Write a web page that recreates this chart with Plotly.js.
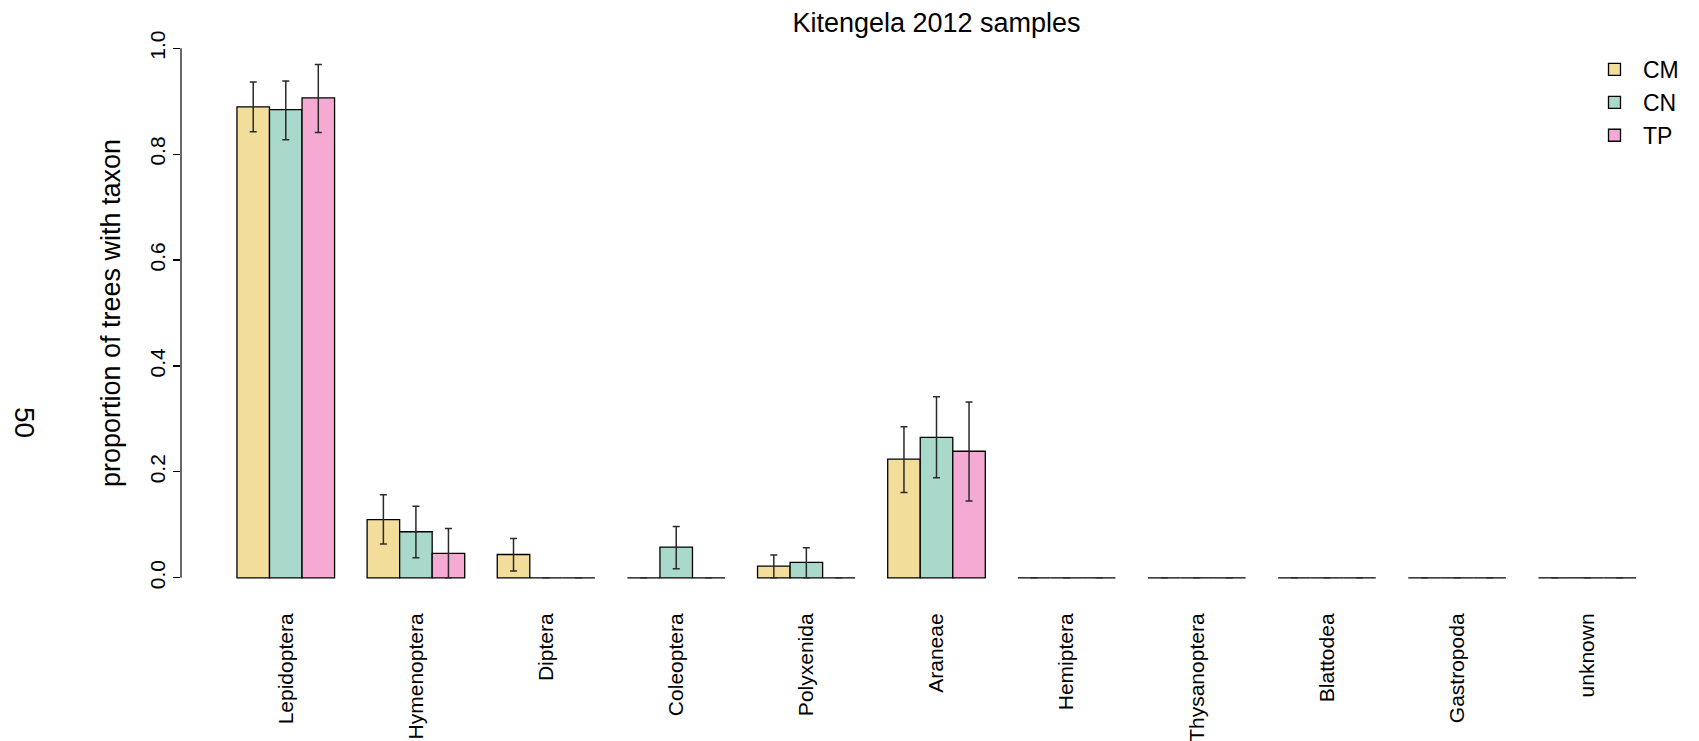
<!DOCTYPE html>
<html>
<head>
<meta charset="utf-8">
<script src="https://cdn.plot.ly/plotly-3.0.1.min.js"></script>
<style>html,body{margin:0;padding:0;background:#fff;}#chart{width:1699px;height:741px;}</style>
</head>
<body>
<div id="chart"></div>
<script>
const taxa = ["Lepidoptera","Hymenoptera","Diptera","Coleoptera","Polyxenida","Araneae","Hemiptera","Thysanoptera","Blattodea","Gastropoda","unknown"];
const groups = ["CM","CN","TP"];
const cmValues = [0.889,0.110,0.044,0,0.022,0.224,0,0,0,0,0];
const cnValues = [0.884,0.087,0,0.058,0.029,0.265,0,0,0,0,0];
const tpValues = [0.906,0.046,0,0,0,0.239,0,0,0,0,0];
const cmUpper = [0.936,0.157,0.074,0,0.043,0.285,0,0,0,0,0];
const cmLower = [0.842,0.064,0.013,0,0,0.161,0,0,0,0,0];
const cnUpper = [0.938,0.135,0,0.097,0.057,0.342,0,0,0,0,0];
const cnLower = [0.827,0.038,0,0.017,0,0.189,0,0,0,0,0];
const tpUpper = [0.969,0.093,0,0,0,0.332,0,0,0,0,0];
const tpLower = [0.841,0,0,0,0,0.145,0,0,0,0,0];
const yTicks = [0,0.2,0.4,0.6,0.8,1.0];
const yTickText = ["0.0","0.2","0.4","0.6","0.8","1.0"];
const colors = ["#F3DD9A","#A8D9CA","#F4AAD2"];

const FONT = "Liberation Sans, Arial, Helvetica, sans-serif";
function mk(name, vals, up, lo, color){
  return {
    type:"bar", name:name, x:taxa, y:vals,
    marker:{color:color, line:{color:"#000", width:1.3}},
    error_y:{type:"data", symmetric:false,
      array: up.map((u,i)=>u-vals[i]),
      arrayminus: lo.map((l,i)=>vals[i]-l),
      color:"#2a2a2a", thickness:1.5, width:3.5}
  };
}
const data = [
  mk(groups[0], cmValues, cmUpper, cmLower, colors[0]),
  mk(groups[1], cnValues, cnUpper, cnLower, colors[1]),
  mk(groups[2], tpValues, tpUpper, tpLower, colors[2])
];
const layout = {
  width:1699, height:741,
  margin:{l:181, r:7, t:27, b:142, pad:0},
  paper_bgcolor:"#fff", plot_bgcolor:"#fff",
  font:{family:FONT, color:"#000", size:21},
  barmode:"group", bargap:0.25, bargroupgap:0,
  title:{text:"Kitengela 2012 samples", font:{family:FONT, size:27, color:"#000"},
    x:0.5, xref:"paper", y:1-23/741, yref:"container", yanchor:"middle"},
  showlegend:true,
  legend:{x:(1586-181)/1511, xanchor:"left", y:1+(27-48)/572, yanchor:"top",
    font:{family:FONT, size:23, color:"#000"}, bgcolor:"rgba(0,0,0,0)", borderwidth:0,
    tracegroupgap:0, itemwidth:47},
  xaxis:{type:"category", range:[-0.805,10.805], showgrid:false, zeroline:false, showline:false,
    ticks:"outside", ticklen:5, tickcolor:"rgba(0,0,0,0)", tickangle:-90,
    tickfont:{family:FONT, size:21, color:"#000"}, automargin:false, fixedrange:true},
  yaxis:{range:[-0.04,1.04], tickvals:yTicks, ticktext:yTickText, showgrid:false, zeroline:false,
    showline:false, ticks:"outside", ticklen:7, tickwidth:1.2, tickcolor:"#000", tickangle:-90,
    tickfont:{family:FONT, size:21, color:"#000"},
    title:{text:"proportion of trees with taxon", font:{family:FONT, size:27, color:"#000"}, standoff:17},
    automargin:true, fixedrange:true},
  shapes:[{type:"line", xref:"paper", yref:"y", x0:0, x1:0, y0:yTicks[0], y1:yTicks[yTicks.length-1],
    line:{color:"#000", width:1.2}}],
  annotations:[{text:"50", xref:"paper", yref:"paper", x:0, y:0.5, xanchor:"center", yanchor:"middle",
    xshift:25-181, yshift:-(422-313), textangle:90, showarrow:false,
    font:{family:FONT, size:28, color:"#000"}}]
};
Plotly.newPlot("chart", data, layout, {staticPlot:true, displayModeBar:false});
</script>
</body>
</html>
